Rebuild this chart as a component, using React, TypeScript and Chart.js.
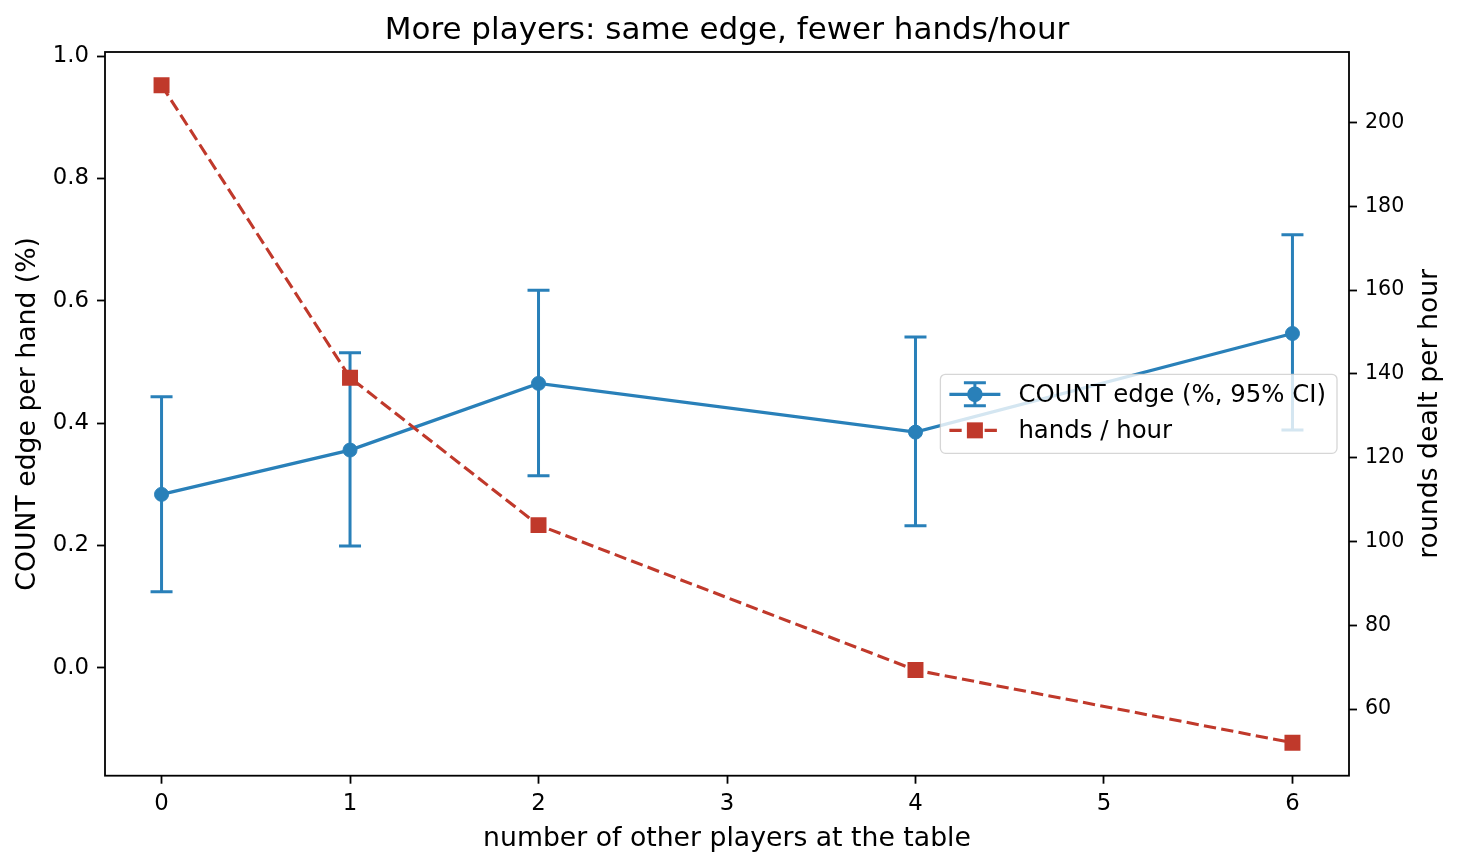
import { useEffect, useRef } from 'react';
import { Chart, registerables } from 'chart.js';

Chart.register(...registerables);

// values
const players = [0, 1, 2, 4, 6];
const edge = [0.2835, 0.356, 0.465, 0.3853, 0.5466];
const edgeLow = [0.1243, 0.199, 0.314, 0.232, 0.3886];
const edgeHigh = [0.443, 0.515, 0.6175, 0.541, 0.708];
const handsPerHour = [208.9, 139.1, 103.9, 69.3, 51.95];

const xTicks = [0, 1, 2, 3, 4, 5, 6];
const edgeTicks = [0, 0.2, 0.4, 0.6, 0.8, 1.0];
const handsTicks = [60, 80, 100, 120, 140, 160, 180, 200];

const FONT = '"DejaVu Sans", sans-serif';
const BLUE = '#2980b9';
const RED = '#c0392b';

const errorBars = {
  id: 'errorBars',
  beforeDatasetsDraw(chart: any) {
    const { ctx, scales } = chart;
    ctx.save();
    ctx.strokeStyle = BLUE;
    ctx.lineWidth = 3;
    players.forEach((p, i) => {
      const x = scales.x.getPixelForValue(p);
      const yHi = scales.y.getPixelForValue(edgeHigh[i]);
      const yLo = scales.y.getPixelForValue(edgeLow[i]);
      ctx.beginPath();
      ctx.moveTo(x, yHi);
      ctx.lineTo(x, yLo);
      ctx.moveTo(x - 11, yHi);
      ctx.lineTo(x + 11, yHi);
      ctx.moveTo(x - 11, yLo);
      ctx.lineTo(x + 11, yLo);
      ctx.stroke();
    });
    ctx.restore();
  },
};

const frameAndTitles = {
  id: 'frameAndTitles',
  afterDatasetsDraw(chart: any) {
    const { ctx, chartArea: a } = chart;
    ctx.save();
    ctx.strokeStyle = '#000';
    ctx.lineWidth = 1.8;
    ctx.strokeRect(a.left, a.top, a.right - a.left, a.bottom - a.top);

    ctx.fillStyle = '#000';
    ctx.textAlign = 'center';
    ctx.textBaseline = 'alphabetic';
    const cx = (a.left + a.right) / 2;
    const cy = (a.top + a.bottom) / 2;

    ctx.font = `31px ${FONT}`;
    ctx.fillText('More players: same edge, fewer hands/hour', cx, a.top - 13);

    ctx.font = `26.7px ${FONT}`;
    ctx.fillText('number of other players at the table', cx, a.bottom + 70);

    ctx.save();
    ctx.translate(35, cy);
    ctx.rotate(-Math.PI / 2);
    ctx.fillText('COUNT edge per hand (%)', 0, 0);
    ctx.restore();

    ctx.save();
    ctx.translate(a.right + 88, cy);
    ctx.rotate(-Math.PI / 2);
    ctx.fillText('rounds dealt per hour', 0, 0);
    ctx.restore();
    ctx.restore();
  },
};

const boxLegend = {
  id: 'boxLegend',
  afterDraw(chart: any) {
    const { ctx, chartArea: a } = chart;
    const labels = ['COUNT edge (%, 95% CI)', 'hands / hour'];
    ctx.save();
    ctx.font = `24.4px ${FONT}`;
    const textW = Math.max(...labels.map((l) => ctx.measureText(l).width));
    const w = 9 + 51 + 18 + textW + 11;
    const h = 79;
    const right = a.right - 12;
    const left = right - w;
    const top = (a.top + a.bottom) / 2 - h / 2;

    ctx.beginPath();
    ctx.roundRect(left, top, w, h, 5);
    ctx.fillStyle = 'rgba(255,255,255,0.8)';
    ctx.fill();
    ctx.strokeStyle = 'rgba(204,204,204,0.8)';
    ctx.lineWidth = 1.3;
    ctx.stroke();

    const hx0 = left + 9;
    const hx1 = hx0 + 51;
    const hm = (hx0 + hx1) / 2;
    const r1 = top + 20;
    const r2 = top + 56;

    // errorbar handle
    ctx.strokeStyle = BLUE;
    ctx.lineWidth = 3.3;
    ctx.beginPath();
    ctx.moveTo(hx0, r1);
    ctx.lineTo(hx1, r1);
    ctx.stroke();
    ctx.lineWidth = 3;
    ctx.beginPath();
    ctx.moveTo(hm, r1 - 11.5);
    ctx.lineTo(hm, r1 + 11.5);
    ctx.moveTo(hm - 11, r1 - 11.5);
    ctx.lineTo(hm + 11, r1 - 11.5);
    ctx.moveTo(hm - 11, r1 + 11.5);
    ctx.lineTo(hm + 11, r1 + 11.5);
    ctx.stroke();
    ctx.fillStyle = BLUE;
    ctx.beginPath();
    ctx.arc(hm, r1, 7.8, 0, Math.PI * 2);
    ctx.fill();

    // hands handle
    ctx.strokeStyle = RED;
    ctx.lineWidth = 3.3;
    ctx.setLineDash([12.3, 5.3]);
    ctx.beginPath();
    ctx.moveTo(hx0, r2);
    ctx.lineTo(hx1, r2);
    ctx.stroke();
    ctx.setLineDash([]);
    ctx.fillStyle = RED;
    ctx.fillRect(hm - 8, r2 - 8, 16, 16);

    ctx.fillStyle = '#000';
    ctx.textAlign = 'left';
    ctx.textBaseline = 'middle';
    ctx.fillText(labels[0], hx1 + 18, r1 + 1);
    ctx.fillText(labels[1], hx1 + 18, r2 + 1);
    ctx.restore();
  },
};

const setTicks = (values: number[]) => (scale: any) => {
  scale.ticks = values.map((v) => ({ value: v }));
};

const axisGrid = {
  drawOnChartArea: false,
  drawTicks: true,
  tickLength: 8,
  tickWidth: 1.8,
  tickColor: '#000',
};

export default function App() {
  const canvasRef = useRef<HTMLCanvasElement>(null);
  const chartRef = useRef<Chart | null>(null);

  useEffect(() => {
    if (!canvasRef.current) return;
    if (chartRef.current) chartRef.current.destroy();

    chartRef.current = new Chart(canvasRef.current, {
      type: 'line',
      data: {
        datasets: [
          {
            label: 'COUNT edge (%, 95% CI)',
            data: players.map((p, i) => ({ x: p, y: edge[i] })),
            yAxisID: 'y',
            borderColor: BLUE,
            backgroundColor: BLUE,
            borderWidth: 3.3,
            pointRadius: 7,
            pointBorderWidth: 1,
            pointBackgroundColor: BLUE,
            pointBorderColor: BLUE,
            tension: 0,
            order: 1,
          },
          {
            label: 'hands / hour',
            data: players.map((p, i) => ({ x: p, y: handsPerHour[i] })),
            yAxisID: 'y2',
            borderColor: RED,
            backgroundColor: RED,
            borderWidth: 3.1,
            borderDash: [12.3, 5.3],
            pointStyle: 'rect',
            pointRadius: 11.3,
            pointBorderWidth: 0,
            pointBackgroundColor: RED,
            tension: 0,
            order: 0,
          },
        ],
      },
      options: {
        animation: false,
        responsive: true,
        maintainAspectRatio: false,
        layout: { padding: { top: 52, left: 0, right: 0, bottom: 0 } },
        plugins: {
          legend: { display: false },
          tooltip: { enabled: false },
          title: { display: false },
        },
        scales: {
          x: {
            type: 'linear',
            position: 'bottom',
            min: -0.3,
            max: 6.3,
            afterBuildTicks: setTicks(xTicks),
            afterFit: (s: any) => {
              s.height = 90.3;
            },
            grid: axisGrid,
            border: { display: false },
            ticks: {
              color: '#000',
              font: { family: FONT, size: 22.8 },
              padding: 7,
              callback: (v: any) => String(v),
            },
          },
          y: {
            type: 'linear',
            position: 'left',
            min: -0.1766,
            max: 1.007,
            afterBuildTicks: setTicks(edgeTicks),
            afterFit: (s: any) => {
              s.width = 105;
            },
            grid: axisGrid,
            border: { display: false },
            ticks: {
              color: '#000',
              font: { family: FONT, size: 22.8 },
              padding: 8,
              callback: (v: any) => Number(v).toFixed(1),
            },
          },
          y2: {
            type: 'linear',
            position: 'right',
            min: 44.08,
            max: 216.85,
            afterBuildTicks: setTicks(handsTicks),
            afterFit: (s: any) => {
              s.width = 109;
            },
            grid: axisGrid,
            border: { display: false },
            ticks: {
              color: '#000',
              font: { family: FONT, size: 20.6 },
              padding: 8,
              callback: (v: any) => String(v),
            },
          },
        },
      },
      plugins: [errorBars, frameAndTitles, boxLegend],
    });

    return () => {
      if (chartRef.current) {
        chartRef.current.destroy();
        chartRef.current = null;
      }
    };
  }, []);

  return (
    <div style={{ position: 'fixed', left: 0, top: 0, width: 1458, height: 866, background: '#fff' }}>
      <canvas ref={canvasRef}></canvas>
    </div>
  );
}
